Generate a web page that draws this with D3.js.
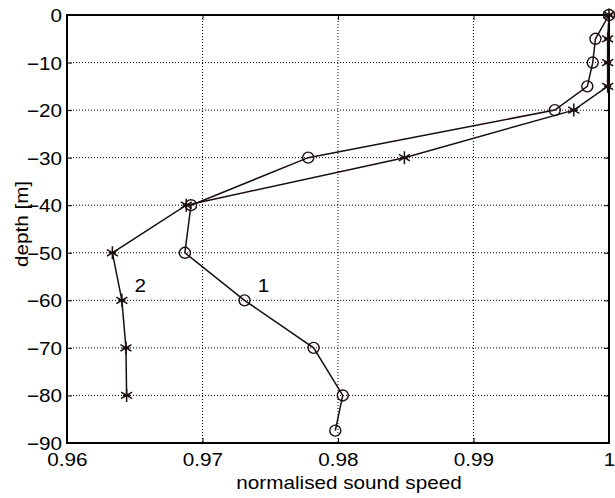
<!DOCTYPE html>
<html>
<head>
<meta charset="utf-8">
<script src="https://cdn.jsdelivr.net/npm/d3@7"></script>
<style>
  html, body { margin: 0; padding: 0; background: #fff; }
  svg text { font-family: "Liberation Sans", Arial, sans-serif; fill: #000; }
</style>
</head>
<body>
<svg id="chart" width="615" height="498"></svg>
<script>
// Profile 1 (circles) and profile 2 (asterisks): normalised sound speed vs depth
const depth1 = [0, -5, -10, -15, -20, -30, -40, -50, -60, -70, -80, -87.4];
const speed1 = [1.0, 0.9990, 0.9988, 0.9984, 0.9960, 0.9778, 0.96915, 0.9687, 0.9731, 0.9782, 0.98035, 0.9798];
const depth2 = [0, -5, -10, -15, -20, -30, -40, -50, -60, -70, -80];
const speed2 = [1.0, 0.9999, 0.9999, 0.9999, 0.9974, 0.9849, 0.9688, 0.96335, 0.96405, 0.96435, 0.9644];

const xTicks = [0.96, 0.97, 0.98, 0.99, 1];
const yTicks = [0, -10, -20, -30, -40, -50, -60, -70, -80, -90];
const xTickLabels = ["0.96", "0.97", "0.98", "0.99", "1"];

const seriesLabels = [
  { text: "1", x: 0.9745, y: -58.3 },
  { text: "2", x: 0.9654, y: -58.3 }
];

const FONT = 18;     // font size in px
const WIDEN = 1.15;  // horizontal widening of the glyphs

const margin = { left: 67, right: 6, top: 15, bottom: 55 };
const W = 615, H = 498;
const svg = d3.select("#chart");

const x = d3.scaleLinear().domain([0.96, 1]).range([margin.left, W - margin.right]);
const y = d3.scaleLinear().domain([-90, 0]).range([H - margin.bottom, margin.top]);

const x0 = x.range()[0], x1 = x.range()[1];
const y0 = y.range()[0], y1 = y.range()[1];

// widen a text around its own anchor point
function widen(sel) {
  sel.each(function () {
    const t = d3.select(this);
    const tx = +t.attr("x") || 0, ty = +t.attr("y") || 0;
    const prev = t.attr("transform") || "";
    t.attr("transform", `${prev} translate(${tx},${ty}) scale(${WIDEN},1) translate(${-tx},${-ty})`);
  });
}

// dotted grid
const grid = svg.append("g");
grid.selectAll("line.gx").data(xTicks.slice(1, -1)).join("line")
  .attr("x1", d => x(d)).attr("x2", d => x(d))
  .attr("y1", y1).attr("y2", y0)
  .attr("stroke", "#000").attr("stroke-width", 1).attr("stroke-dasharray", "1,2");
grid.selectAll("line.gy").data(yTicks.slice(1, -1)).join("line")
  .attr("y1", d => y(d)).attr("y2", d => y(d))
  .attr("x1", x0).attr("x2", x1)
  .attr("stroke", "#000").attr("stroke-width", 1).attr("stroke-dasharray", "1,2");

// axes with inward ticks
const tickLen = 5;
const xAxis = svg.append("g").attr("transform", `translate(0,${y0})`)
  .call(d3.axisBottom(x).tickValues(xTicks).tickSize(-tickLen).tickPadding(10)
    .tickFormat((d, i) => xTickLabels[i]));
const yAxis = svg.append("g").attr("transform", `translate(${x0},0)`)
  .call(d3.axisLeft(y).tickValues(yTicks).tickSize(-tickLen).tickPadding(5)
    .tickFormat(d3.format("d")));
const topAxis = svg.append("g").attr("transform", `translate(0,${y1})`)
  .call(d3.axisTop(x).tickValues(xTicks).tickSize(-tickLen).tickFormat(""));
const rightAxis = svg.append("g").attr("transform", `translate(${x1},0)`)
  .call(d3.axisRight(y).tickValues(yTicks).tickSize(-tickLen).tickFormat(""));

[xAxis, yAxis, topAxis, rightAxis].forEach(a => {
  a.select(".domain").remove();
  a.attr("font-size", FONT);
  a.selectAll(".tick line").attr("stroke", "#000").attr("stroke-width", 1);
  a.selectAll("text").style("font-size", FONT + "px").attr("fill", "#000");
});
xAxis.selectAll("text").attr("dy", "0.71em").call(widen);
yAxis.selectAll("text").attr("dy", "0.36em").call(widen);

// box
svg.append("rect")
  .attr("x", x0).attr("y", y1).attr("width", x1 - x0).attr("height", y0 - y1)
  .attr("fill", "none").attr("stroke", "#000").attr("stroke-width", 2);

const line = d3.line().x(d => x(d[0])).y(d => y(d[1]));
const data1 = speed1.map((s, i) => [s, depth1[i]]);
const data2 = speed2.map((s, i) => [s, depth2[i]]);

const lineColor = "#1a0d0d";

svg.append("path").datum(data2).attr("d", line)
  .attr("fill", "none").attr("stroke", lineColor).attr("stroke-width", 1.5);
svg.append("path").datum(data1).attr("d", line)
  .attr("fill", "none").attr("stroke", lineColor).attr("stroke-width", 1.5);

// circle markers
svg.append("g").selectAll("circle").data(data1).join("circle")
  .attr("cx", d => x(d[0])).attr("cy", d => y(d[1])).attr("r", 5.5)
  .attr("fill", "none").attr("stroke", lineColor).attr("stroke-width", 1.4);

// asterisk markers
const s = 6.5;
const star = svg.append("g").selectAll("g").data(data2).join("g")
  .attr("transform", d => `translate(${x(d[0])},${y(d[1])})`);
star.append("path")
  .attr("d", `M0,${-s}V${s}M${-s*0.85},${-s*0.5}L${s*0.85},${s*0.5}M${-s*0.85},${s*0.5}L${s*0.85},${-s*0.5}M${-s*0.55},0H${s*0.55}`)
  .attr("stroke", lineColor).attr("stroke-width", 1.5).attr("fill", "none");

// series labels
svg.append("g").selectAll("text").data(seriesLabels).join("text")
  .attr("x", d => x(d.x)).attr("y", d => y(d.y))
  .style("font-size", FONT + "px").attr("text-anchor", "middle")
  .text(d => d.text)
  .call(widen);

// axis titles
svg.append("text")
  .attr("x", (x0 + x1) / 2 + 11).attr("y", 489)
  .attr("text-anchor", "middle").style("font-size", FONT + "px")
  .text("normalised sound speed")
  .call(widen);
svg.append("text")
  .attr("transform", `translate(28,${(y0 + y1) / 2 - 5}) rotate(-90)`)
  .attr("text-anchor", "middle").style("font-size", FONT + "px")
  .text("depth [m]")
  .call(widen);
</script>
</body>
</html>
